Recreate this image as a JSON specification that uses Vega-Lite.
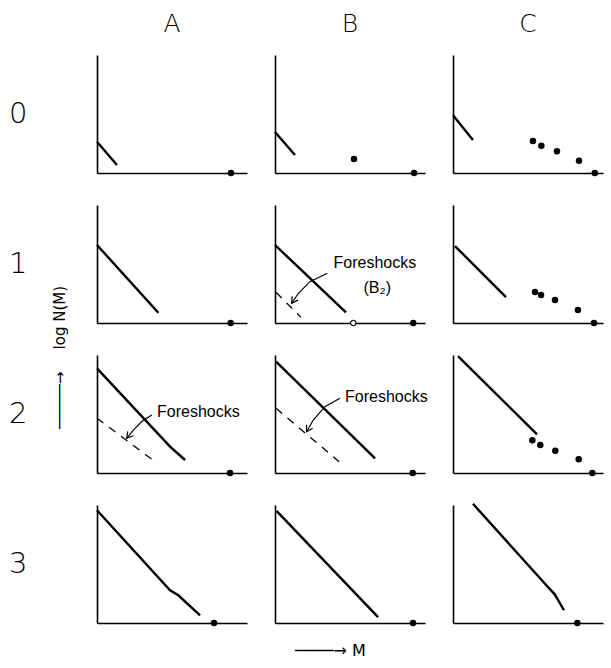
{
  "$schema": "https://vega.github.io/schema/vega-lite/v6.json",
  "padding": {"left": 9, "top": 12, "right": 2, "bottom": 2},
  "data": {"values": [
    {"r":"0","c":"A","kind":"line","id":"s","o":1,"M":0,"N":2.65},
    {"r":"0","c":"A","kind":"line","id":"s","o":2,"M":1.33,"N":0.68},
    {"r":"0","c":"B","kind":"line","id":"s","o":1,"M":0,"N":3.47},
    {"r":"0","c":"B","kind":"line","id":"s","o":2,"M":1.33,"N":1.53},
    {"r":"0","c":"C","kind":"line","id":"s","o":1,"M":0,"N":4.9},
    {"r":"0","c":"C","kind":"line","id":"s","o":2,"M":1.33,"N":2.8},
    {"r":"1","c":"A","kind":"line","id":"s","o":1,"M":0,"N":6.61},
    {"r":"1","c":"A","kind":"line","id":"s","o":2,"M":4.09,"N":0.87},
    {"r":"1","c":"B","kind":"line","id":"s","o":1,"M":0,"N":6.61},
    {"r":"1","c":"B","kind":"line","id":"s","o":2,"M":4.73,"N":0.91},
    {"r":"1","c":"C","kind":"line","id":"s","o":1,"M":0.13,"N":6.52},
    {"r":"1","c":"C","kind":"line","id":"s","o":2,"M":3.53,"N":2.2},
    {"r":"2","c":"A","kind":"line","id":"s","o":1,"M":0,"N":8.87},
    {"r":"2","c":"A","kind":"line","id":"s","o":2,"M":4.87,"N":2.23},
    {"r":"2","c":"A","kind":"line","id":"s","o":3,"M":5.87,"N":1.1},
    {"r":"2","c":"B","kind":"line","id":"s","o":1,"M":0.07,"N":9.43},
    {"r":"2","c":"B","kind":"line","id":"s","o":2,"M":6.67,"N":1.24},
    {"r":"2","c":"C","kind":"line","id":"s","o":1,"M":0.33,"N":9.9},
    {"r":"2","c":"C","kind":"line","id":"s","o":2,"M":5.6,"N":3.28},
    {"r":"3","c":"A","kind":"line","id":"s","o":1,"M":0,"N":9.55},
    {"r":"3","c":"A","kind":"line","id":"s","o":2,"M":4.87,"N":2.77},
    {"r":"3","c":"A","kind":"line","id":"s","o":3,"M":5.42,"N":2.35},
    {"r":"3","c":"A","kind":"line","id":"s","o":4,"M":6.87,"N":0.65},
    {"r":"3","c":"B","kind":"line","id":"s","o":1,"M":0.1,"N":9.5},
    {"r":"3","c":"B","kind":"line","id":"s","o":2,"M":6.87,"N":0.5},
    {"r":"3","c":"C","kind":"line","id":"s","o":1,"M":1.33,"N":10.1},
    {"r":"3","c":"C","kind":"line","id":"s","o":2,"M":6.33,"N":3.05},
    {"r":"3","c":"C","kind":"line","id":"s","o":3,"M":6.78,"N":2.43},
    {"r":"3","c":"C","kind":"line","id":"s","o":4,"M":7.4,"N":1.08},

    {"r":"1","c":"B","kind":"dash","id":"d","o":1,"M":0.07,"N":2.6},
    {"r":"1","c":"B","kind":"dash","id":"d","o":2,"M":1.73,"N":0.48},
    {"r":"2","c":"A","kind":"dash","id":"d","o":1,"M":0,"N":4.64},
    {"r":"2","c":"A","kind":"dash","id":"d","o":2,"M":4.02,"N":0.82},
    {"r":"2","c":"B","kind":"dash","id":"d","o":1,"M":0.07,"N":5.48},
    {"r":"2","c":"B","kind":"dash","id":"d","o":2,"M":4.27,"N":0.96},

    {"r":"1","c":"B","kind":"arrow","id":"a","o":1,"M":3.49,"N":4.21},
    {"r":"1","c":"B","kind":"arrow","id":"a","o":2,"M":2.33,"N":3.5},
    {"r":"1","c":"B","kind":"arrow","id":"a","o":3,"M":1.56,"N":2.52},
    {"r":"1","c":"B","kind":"arrow","id":"a","o":4,"M":1.11,"N":1.67},
    {"r":"1","c":"B","kind":"arrow","id":"h","o":1,"M":1.53,"N":1.94},
    {"r":"1","c":"B","kind":"arrow","id":"h","o":2,"M":1.11,"N":1.67},
    {"r":"1","c":"B","kind":"arrow","id":"h","o":3,"M":1.14,"N":2.26},
    {"r":"2","c":"A","kind":"arrow","id":"a","o":1,"M":3.65,"N":4.92},
    {"r":"2","c":"A","kind":"arrow","id":"a","o":2,"M":2.98,"N":4.36},
    {"r":"2","c":"A","kind":"arrow","id":"a","o":3,"M":2.42,"N":3.64},
    {"r":"2","c":"A","kind":"arrow","id":"a","o":4,"M":1.98,"N":2.94},
    {"r":"2","c":"A","kind":"arrow","id":"h","o":1,"M":2.42,"N":3.16},
    {"r":"2","c":"A","kind":"arrow","id":"h","o":2,"M":1.98,"N":2.94},
    {"r":"2","c":"A","kind":"arrow","id":"h","o":3,"M":2.05,"N":3.53},
    {"r":"2","c":"B","kind":"arrow","id":"a","o":1,"M":4.33,"N":6.33},
    {"r":"2","c":"B","kind":"arrow","id":"a","o":2,"M":3.33,"N":5.62},
    {"r":"2","c":"B","kind":"arrow","id":"a","o":3,"M":2.55,"N":4.49},
    {"r":"2","c":"B","kind":"arrow","id":"a","o":4,"M":2.11,"N":3.5},
    {"r":"2","c":"B","kind":"arrow","id":"h","o":1,"M":2.51,"N":3.8},
    {"r":"2","c":"B","kind":"arrow","id":"h","o":2,"M":2.11,"N":3.5},
    {"r":"2","c":"B","kind":"arrow","id":"h","o":3,"M":2.1,"N":4.09},

    {"r":"0","c":"A","kind":"dot","M":8.93,"N":0},
    {"r":"0","c":"B","kind":"dot","M":5.27,"N":1.19},
    {"r":"0","c":"B","kind":"dot","M":9.27,"N":0},
    {"r":"0","c":"C","kind":"dot","M":5.33,"N":2.71},
    {"r":"0","c":"C","kind":"dot","M":5.89,"N":2.31},
    {"r":"0","c":"C","kind":"dot","M":6.93,"N":1.84},
    {"r":"0","c":"C","kind":"dot","M":8.4,"N":1.04},
    {"r":"0","c":"C","kind":"dot","M":9.45,"N":0},
    {"r":"1","c":"A","kind":"dot","M":8.91,"N":0},
    {"r":"1","c":"B","kind":"dot","M":9.22,"N":0},
    {"r":"1","c":"B","kind":"open","M":5.22,"N":0},
    {"r":"1","c":"C","kind":"dot","M":5.47,"N":2.63},
    {"r":"1","c":"C","kind":"dot","M":5.87,"N":2.37},
    {"r":"1","c":"C","kind":"dot","M":6.8,"N":1.95},
    {"r":"1","c":"C","kind":"dot","M":8.33,"N":1.1},
    {"r":"1","c":"C","kind":"dot","M":9.4,"N":0},
    {"r":"2","c":"A","kind":"dot","M":8.87,"N":0},
    {"r":"2","c":"B","kind":"dot","M":9.18,"N":0},
    {"r":"2","c":"C","kind":"dot","M":5.29,"N":2.77},
    {"r":"2","c":"C","kind":"dot","M":5.82,"N":2.37},
    {"r":"2","c":"C","kind":"dot","M":6.82,"N":1.89},
    {"r":"2","c":"C","kind":"dot","M":8.38,"N":1.16},
    {"r":"2","c":"C","kind":"dot","M":9.29,"N":0},
    {"r":"3","c":"A","kind":"dot","M":7.8,"N":0},
    {"r":"3","c":"B","kind":"dot","M":9.2,"N":0},
    {"r":"3","c":"C","kind":"dot","M":8.29,"N":0},

    {"r":"1","c":"B","kind":"text","M":3.9,"N":5.1,"label":"Foreshocks"},
    {"r":"1","c":"B","kind":"text","M":5.9,"N":3.0,"label":"(B₂)"},
    {"r":"2","c":"A","kind":"text","M":4.0,"N":5.19,"label":"Foreshocks"},
    {"r":"2","c":"B","kind":"text","M":4.67,"N":6.47,"label":"Foreshocks"}
  ]},
  "facet": {
    "row": {"field": "r", "type": "nominal", "sort": ["0","1","2","3"],
      "header": {"title": "─────→\u2800\u2800log N(M)\u2800\u2800\u2800", "titleOrient": "left", "titleFont": "DejaVu Sans", "titleFontSize": 15, "titleFontWeight": "normal", "titleColor": "black", "titlePadding": -69,
        "labelAngle": 0, "labelFont": "DejaVu Sans", "labelFontWeight": 200, "labelFontSize": 29, "labelColor": "black", "labelPadding": 46, "labelAlign": "right", "labelBaseline": "middle"}},
    "column": {"field": "c", "type": "nominal", "sort": ["A","B","C"],
      "header": {"title": "────→  M\u2800\u2800\u2800", "titleOrient": "bottom", "titleFont": "DejaVu Sans", "titleFontSize": 16, "titleFontWeight": "normal", "titleColor": "black", "titlePadding": 6,
        "labelOrient": "top", "labelFont": "DejaVu Sans", "labelFontWeight": 200, "labelFontSize": 25, "labelColor": "black", "labelPadding": 18}}
  },
  "spacing": {"row": 20, "column": 20},
  "resolve": {"axis": {"x": "independent", "y": "independent"}},
  "spec": {
    "width": 150,
    "height": 118,
    "encoding": {
      "x": {"field": "M", "type": "quantitative", "scale": {"domain": [0, 10], "nice": false, "zero": false},
        "axis": {"title": null, "labels": false, "ticks": false, "grid": false, "domain": true, "domainColor": "black", "domainWidth": 1.6}},
      "y": {"field": "N", "type": "quantitative", "scale": {"domain": [0, 10], "nice": false, "zero": false},
        "axis": {"title": null, "labels": false, "ticks": false, "grid": false, "domain": true, "domainColor": "black", "domainWidth": 1.6}}
    },
    "layer": [
      {"transform": [{"filter": "datum.kind === 'line'"}], "mark": {"type": "line", "color": "black", "strokeWidth": 2.4, "clip": false},
        "encoding": {"detail": {"field": "id"}, "order": {"field": "o"}}},
      {"transform": [{"filter": "datum.kind === 'dash'"}], "mark": {"type": "line", "color": "black", "strokeWidth": 1.3, "strokeDash": [8, 7]},
        "encoding": {"detail": {"field": "id"}, "order": {"field": "o"}}},
      {"transform": [{"filter": "datum.kind === 'arrow'"}], "mark": {"type": "line", "color": "black", "strokeWidth": 1.2},
        "encoding": {"detail": {"field": "id"}, "order": {"field": "o"}}},
      {"transform": [{"filter": "datum.kind === 'dot'"}], "mark": {"type": "point", "filled": true, "color": "black", "size": 42, "opacity": 1}},
      {"transform": [{"filter": "datum.kind === 'open'"}], "mark": {"type": "point", "filled": true, "fill": "white", "stroke": "black", "strokeWidth": 1.2, "size": 30, "opacity": 1}},
      {"transform": [{"filter": "datum.kind === 'text'"}], "mark": {"type": "text", "align": "left", "baseline": "middle", "font": "Liberation Sans", "fontSize": 16, "color": "black"},
        "encoding": {"text": {"field": "label"}}}
    ]
  },
  "config": {"view": {"stroke": null}}
}
